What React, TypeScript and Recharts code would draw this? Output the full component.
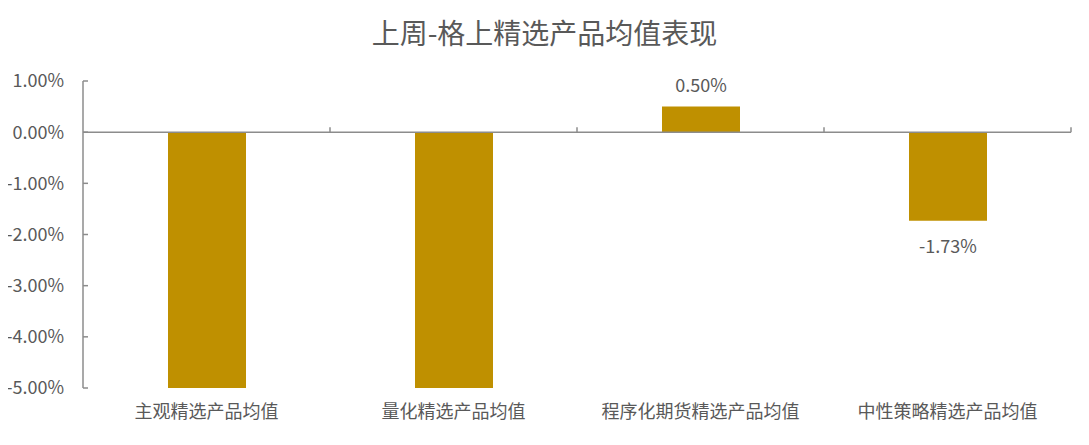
import { Bar, BarChart, LabelList, ReferenceLine, XAxis, YAxis } from "recharts";

const categories = ["主观精选产品均值", "量化精选产品均值", "程序化期货精选产品均值", "中性策略精选产品均值"];
// percent values; first two run past the axis floor and are clipped like the original
const values = [-5.0, -5.0, 0.5, -1.73];
const yTicks = [1, 0, -1, -2, -3, -4, -5];

const Y_MIN = -5;
const Y_MAX = 1;
const AXIS_GREY = "#8c8c8c";
const TEXT_GREY = "#595959";
const BAR_GOLD = "#bf9000";
const FONT = '"Noto Sans CJK SC", "Noto Sans", sans-serif';

const data = categories.map((name, i) => ({ name, value: values[i] }));

const fmt = (v: number) => `${v.toFixed(2)}%`;

// zero line with small upward ticks at category boundaries
const ZeroAxis = (props: any) => {
  const { x1, y1, x2 } = props;
  const step = (x2 - x1) / categories.length;
  const marks = [];
  for (let i = 1; i <= categories.length; i++) {
    const x = x1 + step * i;
    marks.push(<line key={i} x1={x} y1={y1} x2={x} y2={y1 - 5} stroke={AXIS_GREY} strokeWidth={1.5} />);
  }
  return (
    <g>
      <line x1={x1} y1={y1} x2={x2} y2={y1} stroke={AXIS_GREY} strokeWidth={1.5} />
      {marks}
    </g>
  );
};

const ValueLabel = (props: any) => {
  const { x, y, width, height, value } = props;
  if (value <= Y_MIN) return null;
  const cx = x + width / 2;
  const neg = value < 0;
  const ty = neg ? Math.max(y, y + height) + 24 : Math.min(y, y + height) - 23;
  return (
    <text x={cx} y={ty} textAnchor="middle" dominantBaseline="central" fill={TEXT_GREY} fontSize={18} fontFamily={FONT}>
      {fmt(value)}
    </text>
  );
};

const App = () => {
  return (
    <div style={{ position: "relative", width: 1089, height: 445, margin: "-8px 0 0 -8px", fontFamily: FONT }}>
      <div
        style={{
          position: "absolute",
          top: 15,
          left: 0,
          width: 1089,
          textAlign: "center",
          fontSize: 28,
          color: TEXT_GREY,
          lineHeight: "34px",
        }}
      >
        上周-格上精选产品均值表现
      </div>
      <BarChart width={1089} height={445} data={data} margin={{ top: 81, right: 18, left: 8, bottom: 17 }}>
        <XAxis
          dataKey="name"
          axisLine={false}
          tickLine={false}
          height={40}
          tickMargin={11}
          interval={0}
          tick={{ fill: TEXT_GREY, fontSize: 18, fontFamily: FONT }}
        />
        <YAxis
          type="number"
          domain={[Y_MIN, Y_MAX]}
          ticks={yTicks}
          allowDataOverflow
          width={75}
          tickFormatter={fmt}
          tickSize={-5}
          tickMargin={24}
          axisLine={{ stroke: AXIS_GREY, strokeWidth: 1.5 }}
          tickLine={{ stroke: AXIS_GREY, strokeWidth: 1.5 }}
          tick={{ fill: TEXT_GREY, fontSize: 18, fontFamily: FONT }}
        />
        <Bar dataKey="value" fill={BAR_GOLD} barSize={78} isAnimationActive={false}>
          <LabelList dataKey="value" content={<ValueLabel />} />
        </Bar>
        <ReferenceLine y={0} shape={<ZeroAxis />} />
      </BarChart>
    </div>
  );
};

export default App;
